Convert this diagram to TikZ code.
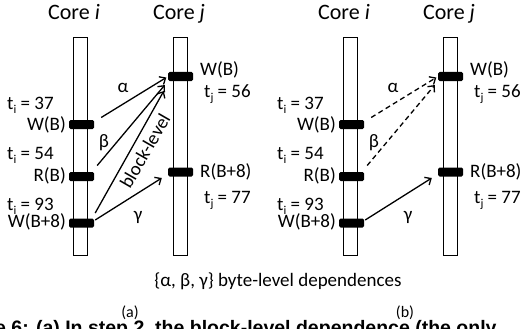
\documentclass[tikz,border=0pt]{standalone}
\usepackage{fontspec}
\setmainfont{Carlito}
\newfontfamily\capfont{Liberation Sans}
\usetikzlibrary{arrows.meta}

% subscript used in the time stamps
\newcommand\tsb[1]{\raisebox{-0.5ex}{\fontsize{12}{12}\selectfont #1}}

\tikzset{
  corebar/.style={draw, line width=0.9pt, fill=white, minimum width=14pt,
    minimum height=218pt, inner sep=0pt},
  acc/.style={fill=black, rounded corners=1.5pt, minimum width=25pt,
    minimum height=9pt, inner sep=0pt},
  lbl/.style={font=\fontsize{19}{19}\selectfont, inner sep=0pt},
  ttl/.style={font=\fontsize{22}{22}\selectfont, inner sep=0pt},
  sublbl/.style={font=\fontsize{16}{16}\selectfont, inner sep=0pt},
  dep/.style={line width=1.3pt,
    -{Straight Barb[length=5pt,width=9pt,line width=1.3pt]}},
  weakdep/.style={dep, dash pattern=on 5pt off 3.5pt},
}

% one pair of cores with their accesses; #1 prefixes the node names
\newcommand\corepair[1]{%
  \node[ttl, anchor=base] (#1ti) at (74,19.5) {Core \textit{i}};
  \node[ttl, anchor=base] (#1tj) at (179,19.5) {Core \textit{j}};
  \node[corebar] (#1ci) at (80,146) {};
  \node[corebar] (#1cj) at (180,146) {};
  \node[acc] (#1wb)  at (81.5,124.5) {};
  \node[acc] (#1rb)  at (81.5,176.5) {};
  \node[acc] (#1wb8) at (81.5,223) {};
  \node[acc] (#1wbj) at (180.5,76.5) {};
  \node[acc] (#1rbj) at (180.5,172) {};
  \node[lbl, anchor=base west] (#1t37) at (7,109) {t\tsb{i} = 37};
  \node[lbl, anchor=base east] (#1lwb) at (66,130.5) {W(B)};
  \node[lbl, anchor=base west] (#1t54) at (7,159) {t\tsb{i} = 54};
  \node[lbl, anchor=base east] (#1lrb) at (66,181) {R(B)};
  \node[lbl, anchor=base west] (#1t93) at (7,210) {t\tsb{i} = 93};
  \node[lbl, anchor=base east] (#1lwb8) at (66,227.5) {W(B+8)};
  \node[lbl, anchor=base west] (#1lwbj) at (200,75) {W(B)};
  \node[lbl, anchor=base west] (#1t56) at (204,97) {t\tsb{j} = 56};
  \node[lbl, anchor=base west] (#1lrbj) at (200,177) {R(B+8)};
  \node[lbl, anchor=base west] (#1t77) at (204,203) {t\tsb{j} = 77};
  \node[lbl] (#1al) at (123,88) {α};
  \node[lbl] (#1be) at (104,143) {β};
  \node[lbl] (#1ga) at (138,217) {γ};
}

\begin{document}
\begin{tikzpicture}[x=1pt, y=-1pt]
\useasboundingbox (0,0) rectangle (522,329);

% (a): all dependences kept
\corepair{a}
\draw[dep] ([shift={(7,-7)}]awb.east) -- ([shift={(-1.5,1)}]awbj.west);
\draw[dep] ([shift={(3,-11)}]arb.east) -- ([shift={(-3,8.5)}]awbj.west);
\draw[dep] ([shift={(1,-10)}]awb8.east) -- ([shift={(-4,14.5)}]awbj.west);
\draw[dep] ([shift={(1,-3)}]awb8.east) -- ([shift={(-6,6)}]arbj.west);
\node[lbl, rotate=60] (blk) at (145,151) {block-level};
\node[sublbl] (capa) at (130,313) {(a)};

% (b): the byte-level dependences alpha and beta become weak
\begin{scope}[xshift=270]
\corepair{b}
\draw[weakdep] ([shift={(7,-7)}]bwb.east) -- ([shift={(-1.5,1)}]bwbj.west);
\draw[weakdep] ([shift={(3,-11)}]brb.east) -- ([shift={(-3,8.5)}]bwbj.west);
\draw[dep] ([shift={(1,-3)}]bwb8.east) -- ([shift={(-6,6)}]brbj.west);
\node[sublbl] (capb) at (135,313) {(b)};
\end{scope}

\node[lbl] (legend) at (278,281) {\{α, β, γ\} byte-level dependences};
\node[anchor=base west, inner sep=0pt, font=\capfont\bfseries\fontsize{19.5}{19.5}\selectfont]
  (caption) at (-5,334.5) {e 6: (a) In step 2, the block-level dependence (the only};
\end{tikzpicture}
\end{document}
